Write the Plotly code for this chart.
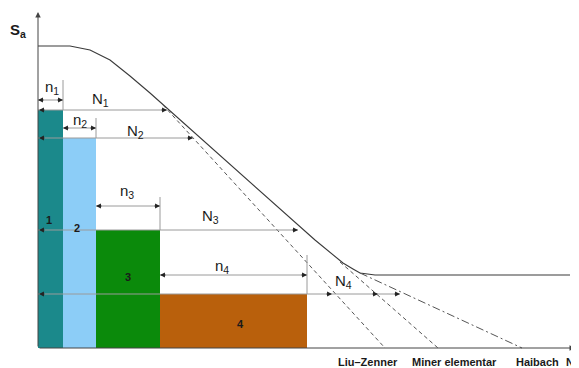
import plotly.graph_objects as go

# ---- data (schematic units: cycles on x, stress amplitude on y) ----
block_edges = [0, 25, 58, 122, 269]          # cumulative cycles n1..n4
block_levels = [238, 210, 118, 54]           # stress amplitude of each block
block_names = ["1", "2", "3", "4"]
life_N = [129, 155, 260]                      # N1..N3 (lifetime at level)
life_N4 = [294, 340, 362]                     # N4 for Liu-Zenner / Miner / Haibach
n_dim_levels = [248, 220, 142, 73]            # height of the n_i dimension lines
n_ext_top = [268, 230, 151, 93]               # top of extension lines

sn_x = [0, 32, 52, 72, 92, 112, 277, 305, 315, 322, 337, 532]
sn_y = [302, 302, 298, 288, 272, 255, 108, 85, 79, 75, 73, 73]
liu_x, liu_y = [125, 347], [243, 0]
miner_x, miner_y = [302, 400], [86, 0]
haibach_x, haibach_y = [322, 484], [75, 0]

bottom_labels = ["Liu\u2013Zenner", "Miner elementar", "Haibach"]
bottom_label_x = [330, 416, 499]

block_colors = ["#1b898b", "#8ccdf7", "#0b8a0b", "#b9600c"]

FONT = "Liberation Sans, Arial, sans-serif"
fig = go.Figure()

# blocks
for i in range(4):
    x0, x1 = block_edges[i], block_edges[i + 1]
    fig.add_trace(go.Bar(x=[(x0 + x1) / 2], y=[block_levels[i]], width=[x1 - x0],
                         marker=dict(color=block_colors[i], line=dict(width=0)),
                         showlegend=False, hoverinfo="skip"))

# S-N curve and variants
fig.add_trace(go.Scatter(x=sn_x, y=sn_y, mode="lines",
                         line=dict(color="#3a3a3a", width=1.1), showlegend=False))
fig.add_trace(go.Scatter(x=liu_x, y=liu_y, mode="lines",
                         line=dict(color="#555", width=1, dash="4px,3px"), showlegend=False))
fig.add_trace(go.Scatter(x=miner_x, y=miner_y, mode="lines",
                         line=dict(color="#555", width=1, dash="4px,3px"), showlegend=False))
fig.add_trace(go.Scatter(x=haibach_x, y=haibach_y, mode="lines",
                         line=dict(color="#555", width=1, dash="8px,3px,2px,3px"), showlegend=False))

def hline(x0, x1, y, color="#9a9a9a"):
    fig.add_trace(go.Scatter(x=[x0, x1], y=[y, y], mode="lines",
                             line=dict(color=color, width=1), showlegend=False, hoverinfo="skip"))

def vline(x, y0, y1, color="#9a9a9a"):
    fig.add_trace(go.Scatter(x=[x, x], y=[y0, y1], mode="lines",
                             line=dict(color=color, width=1), showlegend=False, hoverinfo="skip"))

def head(x_tip, y, direction):
    fig.add_annotation(x=x_tip, y=y, ax=x_tip - 7 * direction, ay=y,
                       xref="x", yref="y", axref="x", ayref="y", text="",
                       showarrow=True, arrowhead=2, arrowsize=1.1, arrowwidth=0.9,
                       arrowcolor="#222")

# N dimension lines
for i in range(3):
    hline(0, life_N[i], block_levels[i])
    head(1, block_levels[i], -1)
    head(life_N[i], block_levels[i], 1)
hline(0, life_N4[-1], block_levels[3])
head(1, block_levels[3], -1)
for xe in life_N4:
    head(xe, block_levels[3], 1)

# n dimension lines with extension lines
for i in range(4):
    x0, x1 = block_edges[i], block_edges[i + 1]
    vline(x1, block_levels[i], n_ext_top[i])
    hline(x0, x1, n_dim_levels[i])
    head(x0, n_dim_levels[i], -1)
    head(x1, n_dim_levels[i], 1)

# axes with arrows
fig.add_annotation(x=0, y=336, ax=0, ay=0, xref="x", yref="y", axref="x", ayref="y",
                   text="", showarrow=True, arrowhead=2, arrowsize=1.1, arrowwidth=1,
                   arrowcolor="#444")
fig.add_annotation(x=537, y=0, ax=0, ay=0, xref="x", yref="y", axref="x", ayref="y",
                   text="", showarrow=True, arrowhead=2, arrowsize=1.1, arrowwidth=1,
                   arrowcolor="#444")

def label(x, y, txt, size=15, bold=False, anchor="center"):
    fig.add_annotation(x=x, y=y, xref="x", yref="y", text=("<b>%s</b>" % txt) if bold else txt,
                       showarrow=False, xanchor=anchor, yanchor="middle",
                       font=dict(family=FONT, size=size, color="#1a1a1a"))

label(14, 261, "n<sub>1</sub>")
label(62, 249, "N<sub>1</sub>")
label(42, 228, "n<sub>2</sub>")
label(97, 217, "N<sub>2</sub>")
label(89, 157, "n<sub>3</sub>")
label(172, 132, "N<sub>3</sub>")
label(184, 82, "n<sub>4</sub>")
label(305, 67, "N<sub>4</sub>")
label(-20, 318, "<b>S<sub>a</sub></b>", size=15)

block_label_pos = [(11, 128), (39, 120), (90, 71), (202, 24)]
for (bx, by), name in zip(block_label_pos, block_names):
    label(bx, by, name, size=11, bold=True)

for lx, txt in zip(bottom_label_x, bottom_labels):
    label(lx, -14, txt, size=11, bold=True)

# axis name "N" at the far right
label(526, -14, "N", size=11, bold=True, anchor="left")

# the page body has an 8px margin: size the figure to the visible area
fig.update_layout(
    width=571, height=360, margin=dict(l=0, r=0, t=0, b=0),
    paper_bgcolor="white", plot_bgcolor="white",
    barmode="overlay", bargap=0,
    xaxis=dict(range=[-30, 541], visible=False, fixedrange=True),
    yaxis=dict(range=[-20, 340], visible=False, fixedrange=True),
    showlegend=False,
)

fig.write_html("out.html")
